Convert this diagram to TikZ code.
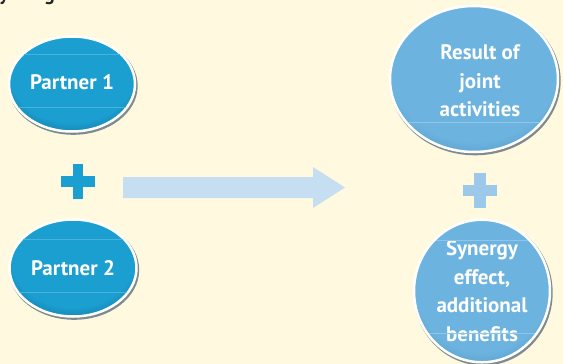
\documentclass[tikz,border=0pt]{standalone}
\usepackage{fontspec}
\setmainfont{PT Sans}
\usetikzlibrary{shapes.geometric}

\definecolor{bg}{HTML}{FFFADF}
\definecolor{pblue}{HTML}{1B9ED0}
\definecolor{pblueedge}{HTML}{11789F}
\definecolor{lblue}{HTML}{6CB3DF}
\definecolor{lblueedge}{HTML}{4E94C0}
\definecolor{arrowblue}{HTML}{C6DEF1}
\definecolor{plusdark}{HTML}{1A9FD0}
\definecolor{pluslight}{HTML}{9CC8EA}
\definecolor{rimgray}{HTML}{7F8A90}
\definecolor{titletext}{HTML}{262626}

% ball fills: flat colour, darkening towards the lower edge
\pgfdeclareradialshading{darkball}{\pgfpoint{0bp}{7bp}}{%
  color(0bp)=(pblue); color(24bp)=(pblue); color(32bp)=(pblueedge); color(50bp)=(pblueedge)}
\pgfdeclareradialshading{lightball}{\pgfpoint{0bp}{7bp}}{%
  color(0bp)=(lblue); color(25bp)=(lblue); color(33bp)=(lblueedge); color(50bp)=(lblueedge)}

\tikzset{
  bubble/.style={ellipse, inner sep=0pt, text=white, align=center,
    font=\bfseries\fontsize{21}{28.5}\selectfont,
    draw=white, line width=2.5pt, shade,
    preaction={draw=rimgray, line width=3pt,
      transform canvas={shift={(1.2pt,-1.8pt)}}}},
  darkbubble/.style={bubble, shading=darkball},
  lightbubble/.style={bubble, shading=lightball},
  gloss/.style={line width=0.4pt},
  title/.style={anchor=base west, inner sep=0pt, text=titletext,
    font=\bfseries\fontsize{20}{24}\selectfont},
}

\begin{document}
\begin{tikzpicture}[x=1pt, y=-1pt]
  % page
  \fill[bg] (0,0) rectangle (563,364);
  \useasboundingbox (0,0) rectangle (563,364);

  % heading above the page edge (only descenders show)
  \node[title] (ty) at (-1,1) {y};
  \node[title] (tg) at (44,1) {g};

  % partners
  \node[darkbubble, minimum width=126pt, minimum height=95pt] (p1) at (72,84)
    {\raisebox{3pt}{Partner 1}};
  \node[darkbubble, minimum width=127pt, minimum height=97pt] (p2) at (73,268) {Partner 2};

  % outcomes (text block sits a little low and to the right)
  \node[lightbubble, minimum width=168pt, minimum height=146pt] (res) at (474,79)
    {\mbox{}\\[-10pt]\hspace*{12pt}Result of\\\hspace*{12pt}joint\\\hspace*{12pt}activities};
  \node[lightbubble, minimum width=136pt, minimum height=140pt] (syn) at (482,291)
    {Synergy\\effect,\\additional\\benefits};

  % faint gloss lines across the balls
  \begin{scope}
    \clip (p1.center) ellipse [x radius=62, y radius=46.5];
    \draw[gloss, pblue!80!white] (0,54) -- (150,54) (0,107) -- (150,107);
  \end{scope}
  \begin{scope}
    \clip (p2.center) ellipse [x radius=62.5, y radius=47.5];
    \draw[gloss, pblue!80!white] (0,239) -- (150,239) (0,292) -- (150,292);
  \end{scope}
  \begin{scope}
    \clip (res.center) ellipse [x radius=83, y radius=72];
    \draw[gloss, lblue!75!white] (380,122) -- (563,122);
  \end{scope}
  \begin{scope}
    \clip (syn.center) ellipse [x radius=67, y radius=69];
    \draw[gloss, lblue!75!white] (400,240) -- (563,240) (400,333) -- (563,333);
  \end{scope}

  % plus signs
  \coordinate (plusL) at (78,181.5);
  \coordinate (plusR) at (480,190.5);
  \fill[plusdark] ([xshift=-17pt,yshift=5.5pt]plusL) rectangle ([xshift=17pt,yshift=-5.5pt]plusL);
  \fill[plusdark] ([xshift=-5pt,yshift=17.5pt]plusL) rectangle ([xshift=5pt,yshift=-17.5pt]plusL);
  \fill[pluslight] ([xshift=-17pt,yshift=5.5pt]plusR) rectangle ([xshift=17pt,yshift=-5.5pt]plusR);
  \fill[pluslight] ([xshift=-6pt,yshift=17.5pt]plusR) rectangle ([xshift=6pt,yshift=-17.5pt]plusR);

  % block arrow from the partners to the outcomes
  \fill[arrowblue] (123,177) -- (313,177) -- (313,167) -- (345,187.5)
    -- (313,208) -- (313,198) -- (123,198) -- cycle;
\end{tikzpicture}
\end{document}
